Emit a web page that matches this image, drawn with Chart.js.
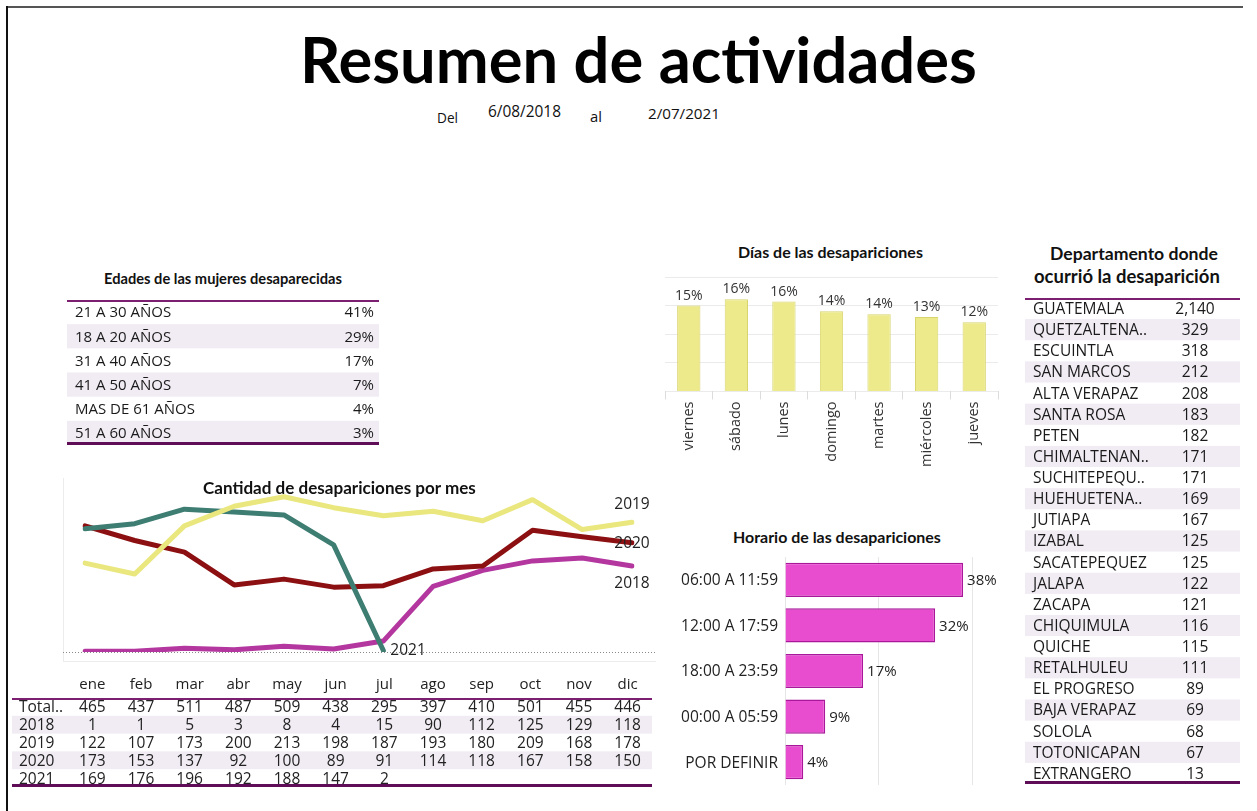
<!DOCTYPE html>
<html>
<head>
<meta charset="utf-8">
<script src="https://cdn.jsdelivr.net/npm/chart.js@4.4.0/dist/chart.umd.min.js"></script>
<style>
  body { margin: 0; background: #fff; }
  #page { position: relative; width: 1257px; height: 811px; overflow: hidden; background: #fff; }
  .frame-top { position: absolute; left: 7px; top: 6px; width: 1236px; border-top: 2px solid #555; }
  .frame-left { position: absolute; left: 6px; top: 6px; height: 805px; border-left: 2px solid #111; }
  .t { position: absolute; white-space: nowrap; line-height: 0; color: #111; font-family: 'Open Sans', sans-serif; }
  .b { font-family: Lato, sans-serif; font-weight: 700; }
  canvas { position: absolute; display: block; }
  .plotbox { position: absolute; left: 63px; top: 478px; width: 592px; height: 183px; border-left: 1px solid #ececec; border-bottom: 1px solid #ececec; }
</style>
</head>
<body>
<div id="page">
  <div class="frame-top"></div>
  <div class="frame-left"></div>

  <div class="t b" style="left:300px;top:59px;font-size:63px;color:#000" data-w="677">Resumen de actividades</div>
  <div class="t" style="left:437px;top:118px;font-size:14px" data-w="21">Del</div>
  <div class="t" style="left:488px;top:112px;font-size:14px" data-w="73">6/08/2018</div>
  <div class="t" style="left:590px;top:116px;font-size:14px" data-w="12">al</div>
  <div class="t" style="left:648px;top:113px;font-size:14px" data-w="72">2/07/2021</div>

  <div class="t b" style="left:104px;top:279px;font-size:13px" data-w="238">Edades de las mujeres desaparecidas</div>
  <div class="t b" style="left:738px;top:252px;font-size:13px" data-w="185">Días de las desapariciones</div>
  <div class="t b" style="left:1050px;top:254px;font-size:16px" data-w="168">Departamento donde</div>
  <div class="t b" style="left:1034px;top:276px;font-size:16px" data-w="186">ocurrió la desaparición</div>
  <div class="t b" style="left:733px;top:537px;font-size:13px" data-w="208">Horario de las desapariciones</div>

  <div class="plotbox"></div>
  <canvas id="ageTable" style="left:67px;top:300px" width="312" height="145"></canvas>
  <canvas id="dayChart" style="left:650px;top:264px" width="360" height="205"></canvas>
  <canvas id="deptTable" style="left:1025px;top:298px" width="215" height="486"></canvas>
  <canvas id="hourChart" style="left:668px;top:555px" width="342" height="235"></canvas>
  <canvas id="lineChart" style="left:63px;top:478px" width="592" height="183"></canvas>
  <canvas id="monthTable" style="left:12px;top:672px" width="640" height="118"></canvas>

  <div class="t b" style="left:203px;top:488px;font-size:14px" data-w="273">Cantidad de desapariciones por mes</div>
</div>

<script>
// datos
const ageLabels = ['21 A 30 AÑOS', '18 A 20 AÑOS', '31 A 40 AÑOS', '41 A 50 AÑOS', 'MAS DE 61 AÑOS', '51 A 60 AÑOS'];
const agePct = [41, 29, 17, 7, 4, 3];

const dayLabels = ['viernes', 'sábado', 'lunes', 'domingo', 'martes', 'miércoles', 'jueves'];
const dayPct = [15.0, 16.1, 15.7, 14.0, 13.5, 13.0, 12.1];

const hourLabels = ['06:00 A 11:59', '12:00 A 17:59', '18:00 A 23:59', '00:00 A 05:59', 'POR DEFINIR'];
const hourPct = [38.1, 32.1, 16.7, 8.6, 3.9];

const deptLabels = ['GUATEMALA', 'QUETZALTENA..', 'ESCUINTLA', 'SAN MARCOS', 'ALTA VERAPAZ', 'SANTA ROSA', 'PETEN',
  'CHIMALTENAN..', 'SUCHITEPEQU..', 'HUEHUETENA..', 'JUTIAPA', 'IZABAL', 'SACATEPEQUEZ', 'JALAPA', 'ZACAPA',
  'CHIQUIMULA', 'QUICHE', 'RETALHULEU', 'EL PROGRESO', 'BAJA VERAPAZ', 'SOLOLA', 'TOTONICAPAN', 'EXTRANGERO'];
const deptCount = [2140, 329, 318, 212, 208, 183, 182, 171, 171, 169, 167, 125, 125, 122, 121, 116, 115, 111, 89, 69, 68, 67, 13];

const months = ['ene', 'feb', 'mar', 'abr', 'may', 'jun', 'jul', 'ago', 'sep', 'oct', 'nov', 'dic'];
const monthTotal = [465, 437, 511, 487, 509, 438, 295, 397, 410, 501, 455, 446];
const y2018 = [1, 1, 5, 3, 8, 4, 15, 90, 112, 125, 129, 118];
const y2019 = [122, 107, 173, 200, 213, 198, 187, 193, 180, 209, 168, 178];
const y2020 = [173, 153, 137, 92, 100, 89, 91, 114, 118, 167, 158, 150];
const y2021 = [169, 176, 196, 192, 188, 147, 2];
const tableRows = ['Total..', '2018', '2019', '2020', '2021'];
const tableValues = [monthTotal, y2018, y2019, y2020, y2021];

// ajustar el ancho de los textos
document.querySelectorAll('[data-w]').forEach(el => {
  const w = +el.dataset.w;
  const fs = parseFloat(getComputedStyle(el).fontSize);
  el.style.fontSize = (fs * w / el.getBoundingClientRect().width) + 'px';
});

Chart.defaults.animation = false;
Chart.defaults.responsive = false;
Chart.defaults.font.family = "'Open Sans', sans-serif";
Chart.defaults.color = '#222';
Chart.defaults.plugins.legend.display = false;
Chart.defaults.plugins.tooltip.enabled = false;

const PURPLE = '#7d1f70';
const PURPLE_DARK = '#5f0d56';
const SHADE = '#f1ebf3';

// filas sombreadas + lineas de la tabla
function shadeRows(chart, n, x0) {
  const { ctx, chartArea: a, scales: { y } } = chart;
  const h = (a.bottom - a.top) / n;
  ctx.save();
  ctx.fillStyle = SHADE;
  for (let i = 1; i < n; i += 2) {
    ctx.fillRect(x0, y.getPixelForValue(i) - h / 2, chart.width - x0, h);
  }
  ctx.restore();
}

function ruleLines(chart, x0) {
  const { ctx, chartArea: a } = chart;
  ctx.save();
  ctx.strokeStyle = PURPLE;
  ctx.lineWidth = 2;
  ctx.beginPath(); ctx.moveTo(x0, a.top + 1); ctx.lineTo(chart.width, a.top + 1); ctx.stroke();
  ctx.strokeStyle = PURPLE_DARK;
  ctx.lineWidth = 3;
  ctx.beginPath(); ctx.moveTo(x0, a.bottom - 1.5); ctx.lineTo(chart.width, a.bottom - 1.5); ctx.stroke();
  ctx.restore();
}

function text(ctx, s, x, y, align, size, color) {
  ctx.font = size + "px 'Open Sans', sans-serif";
  ctx.fillStyle = color || '#1a1a1a';
  ctx.textAlign = align;
  ctx.textBaseline = 'middle';
  ctx.fillText(s, x, y);
}

// tabla de una columna (edades, departamentos)
function listTable(id, labels, values, fmt, valueX, valueAlign, size) {
  new Chart(document.getElementById(id), {
    type: 'bar',
    data: { labels: labels, datasets: [{ data: values, backgroundColor: 'rgba(0,0,0,0)' }] },
    options: {
      indexAxis: 'y',
      layout: { padding: 0 },
      scales: { x: { display: false, min: 0 }, y: { display: false } }
    },
    plugins: [{
      id: 'listTable',
      beforeDraw(chart) { shadeRows(chart, labels.length, 0); },
      afterDraw(chart) {
        const { ctx, scales: { y } } = chart;
        ctx.save();
        labels.forEach((l, i) => {
          const py = y.getPixelForValue(i) + 1;
          text(ctx, l, 8, py, 'left', size);
          text(ctx, fmt(values[i]), valueX(chart), py, valueAlign, size);
        });
        ctx.restore();
        ruleLines(chart, 0);
      }
    }]
  });
}

listTable('ageTable', ageLabels, agePct, v => v + '%', c => c.chartArea.right - 5, 'right', 15);
listTable('deptTable', deptLabels, deptCount, v => v.toLocaleString('en-US'), c => 170, 'center', 15.5);

// Días de las desapariciones
new Chart(document.getElementById('dayChart'), {
  type: 'bar',
  data: {
    labels: dayLabels,
    datasets: [{
      data: dayPct,
      backgroundColor: '#ecea8b',
      borderColor: '#d9d56e',
      borderWidth: 1,
      barPercentage: 0.5,
      categoryPercentage: 0.98
    }]
  },
  options: {
    layout: { padding: { left: 15, right: 12, top: 13, bottom: 0 } },
    scales: {
      y: {
        min: 0, max: 20,
        ticks: { display: false, stepSize: 5 },
        grid: { color: '#ebebeb', drawTicks: false },
        border: { display: false }
      },
      x: {
        grid: { display: true, drawOnChartArea: false, offset: true, tickLength: 8, color: '#dcdcdc' },
        border: { display: false },
        ticks: { minRotation: 90, maxRotation: 90, padding: 2, font: { size: 14.5 }, color: '#333' }
      }
    }
  },
  plugins: [{
    id: 'dayValues',
    afterDatasetsDraw(chart) {
      const ctx = chart.ctx;
      ctx.save();
      chart.getDatasetMeta(0).data.forEach((bar, i) => {
        ctx.font = "14px 'Open Sans', sans-serif";
        ctx.fillStyle = '#333';
        ctx.textAlign = 'center';
        ctx.textBaseline = 'bottom';
        ctx.fillText(Math.round(dayPct[i]) + '%', bar.x, bar.y - 3);
      });
      ctx.restore();
    }
  }]
});

// Horario de las desapariciones
new Chart(document.getElementById('hourChart'), {
  type: 'bar',
  data: {
    labels: hourLabels,
    datasets: [{
      data: hourPct,
      backgroundColor: '#e84ccf',
      borderColor: '#a9189a',
      borderWidth: 1.5,
      barPercentage: 1,
      categoryPercentage: 0.75
    }]
  },
  options: {
    indexAxis: 'y',
    layout: { padding: { left: 117, right: 38, top: 2, bottom: 5 } },
    scales: {
      x: {
        min: 0, max: 40,
        ticks: { display: false, stepSize: 20 },
        grid: { color: '#e6e6e6', drawTicks: false },
        border: { display: false }
      },
      y: { display: false }
    }
  },
  plugins: [{
    id: 'hourLabels',
    afterDatasetsDraw(chart) {
      const ctx = chart.ctx;
      const a = chart.chartArea;
      ctx.save();
      chart.getDatasetMeta(0).data.forEach((bar, i) => {
        text(ctx, hourLabels[i], a.left - 7, bar.y + 1, 'right', 15.5, '#222');
        text(ctx, Math.round(hourPct[i]) + '%', bar.x + 4, bar.y + 1, 'left', 15, '#222');
      });
      ctx.restore();
    }
  }]
});

// Cantidad de desapariciones por mes
const endLabels = { '2019': [0, -18, 'center'], '2020': [0, 1, 'center'], '2018': [0, 18, 'center'], '2021': [7, 0, 'left'] };
new Chart(document.getElementById('lineChart'), {
  type: 'line',
  data: {
    labels: months,
    datasets: [
      { label: '2019', data: y2019, borderColor: '#e9e77d' },
      { label: '2021', data: y2021, borderColor: '#3e7d72' },
      { label: '2020', data: y2020, borderColor: '#8c1012' },
      { label: '2018', data: y2018, borderColor: '#b3379f' }
    ]
  },
  options: {
    layout: { padding: { left: 22, right: 23, top: 10, bottom: 9 } },
    elements: {
      line: { borderWidth: 5, tension: 0, borderCapStyle: 'round', borderJoinStyle: 'round' },
      point: { radius: 0 }
    },
    scales: {
      x: { display: false },
      y: { display: false, min: 0, max: 225 }
    }
  },
  plugins: [{
    id: 'zeroLine',
    beforeDatasetsDraw(chart) {
      const ctx = chart.ctx;
      const py = Math.round(chart.scales.y.getPixelForValue(0)) + 0.5;
      ctx.save();
      ctx.strokeStyle = '#8a8a8a';
      ctx.lineWidth = 1;
      ctx.setLineDash([1, 2]);
      ctx.beginPath(); ctx.moveTo(0, py); ctx.lineTo(chart.width, py); ctx.stroke();
      ctx.restore();
    },
    afterDatasetsDraw(chart) {
      const ctx = chart.ctx;
      ctx.save();
      chart.data.datasets.forEach((ds, i) => {
        const pts = chart.getDatasetMeta(i).data;
        const p = pts[pts.length - 1];
        const [dx, dy, al] = endLabels[ds.label];
        text(ctx, ds.label, p.x + dx, p.y + dy, al, 15.5, '#222');
      });
      ctx.restore();
    }
  }]
});

// tabla por mes
new Chart(document.getElementById('monthTable'), {
  type: 'line',
  data: { labels: months, datasets: [] },
  options: {
    layout: { padding: { left: 56, right: 0, top: 26, bottom: 3 } },
    scales: {
      x: { type: 'category', labels: months, offset: true, display: false },
      y: { type: 'category', labels: tableRows, offset: true, display: false }
    }
  },
  plugins: [{
    id: 'monthTable',
    beforeDraw(chart) { shadeRows(chart, tableRows.length, 0); },
    afterDraw(chart) {
      const { ctx, chartArea: a, scales: { x, y } } = chart;
      ctx.save();
      months.forEach((m, j) => text(ctx, m, x.getPixelForValue(j), a.top - 13, 'center', 15, '#222'));
      tableRows.forEach((r, i) => {
        const py = y.getPixelForValue(i) + 1;
        text(ctx, r, 7, py, 'left', 15.5, '#222');
        tableValues[i].forEach((v, j) => text(ctx, String(v), x.getPixelForValue(j), py, 'center', 15.5, '#222'));
      });
      ctx.restore();
      ruleLines(chart, 0);
    }
  }]
});
</script>
</body>
</html>
